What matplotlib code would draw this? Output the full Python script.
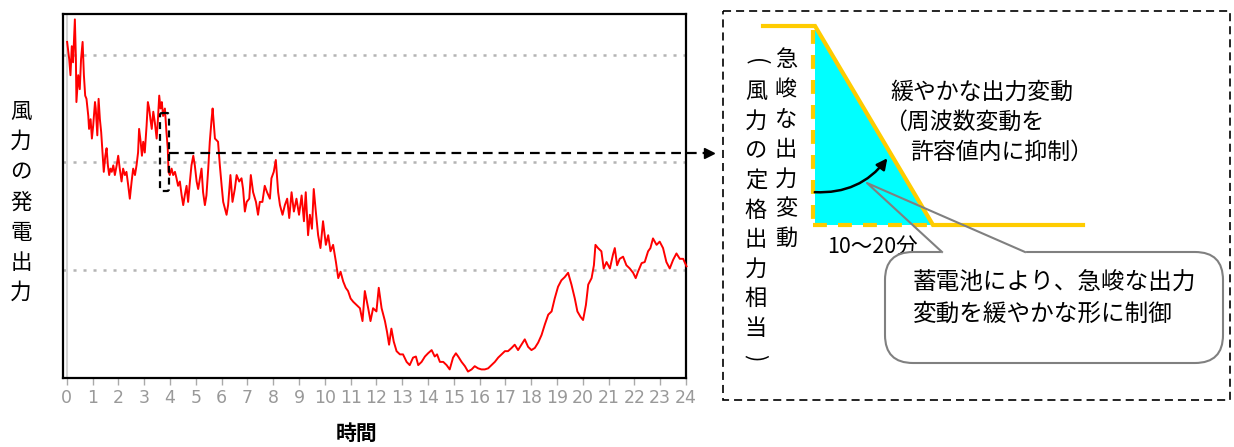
import matplotlib
matplotlib.use("Agg")
import matplotlib.pyplot as plt
from matplotlib.patches import FancyBboxPatch, Polygon, Rectangle

plt.rcParams['font.family'] = ['Noto Sans CJK JP', 'DejaVu Sans']
plt.rcParams['lines.scale_dashes'] = False

# ── data: wind power output over one day ─────────────────────────────────
hours = [
    0.01, 0.09, 0.14, 0.19, 0.24, 0.31, 0.35, 0.37, 0.44, 0.50, 0.55, 0.61,
    0.66, 0.71, 0.76, 0.83, 0.86, 0.92, 0.97, 1.02, 1.09, 1.12, 1.18, 1.23,
    1.28, 1.33, 1.38, 1.43, 1.49, 1.54, 1.59, 1.64, 1.69, 1.74, 1.80, 1.86,
    1.93, 1.99, 2.05, 2.12, 2.18, 2.25, 2.31, 2.38, 2.44, 2.51, 2.57, 2.64,
    2.70, 2.76, 2.80, 2.86, 2.91, 2.96, 3.02, 3.09, 3.14, 3.19, 3.24, 3.29,
    3.35, 3.41, 3.48, 3.53, 3.58, 3.63, 3.68, 3.73, 3.80, 3.86, 3.91, 3.94,
    3.99, 4.06, 4.12, 4.19, 4.25, 4.31, 4.38, 4.45, 4.51, 4.57, 4.64, 4.70,
    4.77, 4.83, 4.90, 4.96, 5.03, 5.09, 5.16, 5.22, 5.28, 5.35, 5.41, 5.48,
    5.54, 5.61, 5.65, 5.74, 5.86, 5.93, 6.00, 6.06, 6.19, 6.25, 6.34, 6.42,
    6.51, 6.58, 6.68, 6.77, 6.83, 6.90, 6.97, 7.07, 7.13, 7.22, 7.33, 7.41,
    7.48, 7.58, 7.67, 7.76, 7.87, 7.93, 8.02, 8.10, 8.19, 8.26, 8.36, 8.45,
    8.54, 8.62, 8.71, 8.80, 8.90, 9.00, 9.10, 9.19, 9.26, 9.35, 9.42, 9.50,
    9.57, 9.65, 9.74, 9.83, 9.93, 10.04, 10.13, 10.22, 10.32, 10.43, 10.52,
    10.61, 10.71, 10.81, 10.90, 11.00, 11.10, 11.23, 11.36, 11.46, 11.55,
    11.68, 11.77, 11.87, 12.00, 12.09, 12.20, 12.33, 12.41, 12.49, 12.58,
    12.67, 12.78, 12.91, 13.03, 13.17, 13.29, 13.42, 13.53, 13.62, 13.75,
    13.88, 14.00, 14.14, 14.26, 14.35, 14.46, 14.59, 14.72, 14.84, 14.97,
    15.08, 15.17, 15.30, 15.43, 15.55, 15.69, 15.81, 15.94, 16.07, 16.20,
    16.33, 16.46, 16.59, 16.72, 16.85, 16.98, 17.10, 17.24, 17.36, 17.49,
    17.62, 17.75, 17.88, 18.01, 18.14, 18.27, 18.40, 18.53, 18.66, 18.79,
    18.91, 19.04, 19.17, 19.30, 19.43, 19.56, 19.69, 19.79, 19.91, 20.01,
    20.12, 20.21, 20.34, 20.43, 20.49, 20.59, 20.72, 20.81, 20.92, 21.05,
    21.17, 21.24, 21.33, 21.43, 21.56, 21.69, 21.82, 21.95, 22.05, 22.14,
    22.28, 22.40, 22.53, 22.62, 22.72, 22.86, 22.98, 23.11, 23.24, 23.37,
    23.50, 23.63, 23.76, 23.89, 24.02,
]
output = [
    312, 296, 281, 308, 293, 333, 296, 256, 281, 268, 296, 312,
    281, 262, 259, 243, 231, 240, 222, 234, 256, 250, 225, 259,
    240, 228, 209, 191, 206, 213, 197, 188, 194, 191, 197, 188,
    197, 206, 194, 182, 194, 188, 191, 178, 166, 182, 194, 188,
    197, 209, 231, 219, 206, 219, 209, 234, 256, 250, 240, 231,
    247, 237, 222, 240, 262, 250, 256, 243, 250, 228, 213, 191,
    188, 194, 188, 191, 185, 178, 182, 169, 160, 169, 178, 163,
    182, 197, 206, 197, 182, 175, 185, 194, 172, 160, 169, 194,
    219, 240, 250, 222, 219, 197, 178, 163, 151, 160, 188, 163,
    175, 188, 182, 185, 175, 154, 163, 166, 188, 172, 163, 151,
    163, 163, 178, 172, 166, 185, 191, 202, 172, 160, 151, 160,
    166, 148, 172, 154, 166, 151, 169, 145, 172, 132, 151, 138,
    175, 154, 132, 120, 145, 123, 132, 117, 123, 107, 92,
    98, 89, 83, 80, 73, 70, 67, 64, 52, 80,
    64, 52, 64, 61, 83, 64, 52, 42, 30, 45,
    33, 24, 21, 21, 14, 11, 18, 19, 11, 14,
    19, 22, 25, 19, 21, 14, 14, 11, 7, 18,
    22, 19, 14, 10, 5, 7, 10, 8, 7, 7,
    8, 11, 14, 18, 21, 24, 24, 27, 30, 25,
    30, 35, 28, 25, 27, 32, 39, 49, 58, 61,
    73, 84, 90, 93, 97, 86, 73, 61, 56, 53,
    67, 86, 92, 104, 123, 120, 117, 101, 107, 101,
    114, 120, 104, 110, 112, 104, 101, 97, 92, 98,
    106, 107, 117, 120, 129, 123, 126, 120, 107, 101,
    109, 115, 110, 110, 103,
]
hour_ticks = list(range(25))
grid_levels = [100, 200, 300]

ylabel_text = '風力の発電出力'
xlabel_text = '時間'
steep_text = '急峻な出力変動'
rated_text = '(風力の定格出力相当)'
span_text = '10～20分'
gentle_lines = ['緩やかな出力変動', '（周波数変動を', '許容値内に抑制）']
callout_lines = ['蓄電池により、急峻な出力', '変動を緩やかな形に制御']

W, H = 1234, 447
fig = plt.figure(figsize=(W / 100, H / 100), dpi=100)

# ── main time-series panel ───────────────────────────────────────────────
ax = fig.add_axes([63 / W, (H - 378) / H, 623 / W, 364 / H])
ax.set_xlim(-0.15, 24.0)
ax.set_ylim(-1, 338)
for g in grid_levels:
    ax.axhline(g, color='#b4b4b4', lw=1.8, ls=(0, (2.2, 5.0)), zorder=1)
ax.axvline(0, color='#d4d4d4', lw=1.5, zorder=1)
ax.plot(hours, output, color='#ff0000', lw=1.4, zorder=3, clip_on=False)

ax.set_xticks(hour_ticks)
ax.set_xticklabels([str(h) for h in hour_ticks],
                   family=['Liberation Sans Narrow', 'DejaVu Sans'],
                   fontsize=12.5, color='#999999')
ax.tick_params(axis='x', length=5, width=1, color='#aaaaaa', pad=3)
ax.set_yticks([])
for sp in ax.spines.values():
    sp.set_linewidth(1.6)
    sp.set_color('black')

# ── overlay in pixel coordinates for the annotations ─────────────────────
ov = fig.add_axes([0, 0, 1, 1], zorder=5)
ov.set_xlim(0, W)
ov.set_ylim(H, 0)
ov.axis('off')

for i, ch in enumerate(ylabel_text):
    ov.text(21, 112 + i * 30.2, ch, ha='center', va='center', fontsize=15.5)
ov.text(357, 433, xlabel_text, ha='center', va='center', fontsize=15,
        fontweight='bold')

# small dashed marker around the steep drop, and the leader line
ov.add_patch(FancyBboxPatch((160, 113), 9, 78,
                            boxstyle='round,pad=0,rounding_size=2',
                            fill=False, ec='black', lw=1.6,
                            ls=(0, (5, 3.5))))
ov.plot([169, 704], [153, 153], color='black', lw=1.6, ls=(0, (7, 4.3)))
ov.plot([709], [153], marker='>', ms=7, color='black', mec='black')

# right-hand schematic
ov.add_patch(Rectangle((723, 11), 507, 389, fill=False, ec='black',
                       lw=1.2, ls=(0, (5.8, 3.6))))
ov.add_patch(Polygon([(815, 27), (815, 225), (932, 225)], closed=True,
                     fc='#00ffff', ec='none'))
ov.plot([813, 813], [30, 225], color='#ffcc00', lw=3, ls=(0, (10, 8)),
        solid_capstyle='butt')
ov.plot([813, 932], [225, 225], color='#ffcc00', lw=3, ls=(0, (10, 8)),
        solid_capstyle='butt')
ov.plot([763, 815, 933, 1083], [26, 26, 225, 225], color='#ffcc00', lw=3,
        solid_joinstyle='miter')
ov.annotate('', xy=(889, 156), xytext=(812, 192),
            arrowprops=dict(arrowstyle='-|>', color='black', lw=1.8,
                            mutation_scale=16,
                            connectionstyle='arc3,rad=0.28'))

for i, ch in enumerate(steep_text):
    ov.text(786, 60 + i * 29.7, ch, ha='center', va='center', fontsize=16)
for i, ch in enumerate(rated_text):
    # brackets turned sideways, as in vertical writing
    rot = -90 if ch in '()' else 0
    ov.text(756, 62 + i * 29.6, ch, ha='center', va='center', fontsize=16,
            rotation=rot)

ov.text(872, 247, span_text, ha='center', va='center', fontsize=15.5)

ov.text(890, 92, gentle_lines[0], ha='left', va='center', fontsize=16.5)
ov.text(884, 122, gentle_lines[1], ha='left', va='center', fontsize=16.5)
ov.text(910, 152, gentle_lines[2], ha='left', va='center', fontsize=16.5)

# speech-bubble callout
ov.add_patch(FancyBboxPatch((885, 252), 338, 111,
                            boxstyle='round,pad=0,rounding_size=28',
                            fc='white', ec='#808080', lw=1.5, zorder=4))
ov.plot([943, 1024], [252, 252], color='white', lw=3, zorder=5)
ov.plot([942, 867, 1025], [252, 183, 252], color='#808080', lw=1.5, zorder=6)
ov.text(913, 282, callout_lines[0], ha='left', va='center', fontsize=17,
        zorder=7)
ov.text(913, 314, callout_lines[1], ha='left', va='center', fontsize=17,
        zorder=7)

fig.savefig('out.png', dpi=100)
